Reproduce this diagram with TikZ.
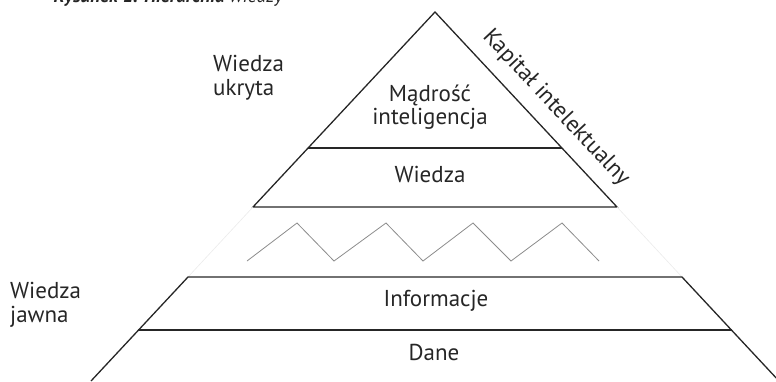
\documentclass[tikz,border=0pt]{standalone}
\usepackage{fontspec}
\setmainfont{PT Sans}
\usepackage{tikz}

\tikzset{
    edge/.style={black!85, line width=1.3pt, line join=miter},
    ghost/.style={black!8, line width=0.6pt},
    zig/.style={black!45, line width=0.8pt},
    lab/.style={font=\fontsize{23}{24}\selectfont, inner sep=0pt, text=black!85}
}

\begin{document}
\begin{tikzpicture}[x=1pt, y=-1pt]

\useasboundingbox (0,0) rectangle (776,381);

% top triangle
\draw[edge] (253,207) -- (435,12) -- (617,207) -- cycle;
\draw[edge] (308,148) -- (562,148);

% faint continuation of the sides
\draw[ghost] (253,207) -- (188,277);
\draw[ghost] (617,207) -- (682,277);

% zigzag
\draw[zig] (247,261) -- (297,223) -- (334,261) -- (386,223) -- (423,261) -- (473,223) -- (511,261) -- (562,223) -- (599,261);

% lower trapezoid
\draw[edge] (91,381) -- (188,277) -- (682,277) -- (779,381);
\draw[edge] (138,330) -- (732,330);

\node[lab, anchor=base] (mad) at (430,101) {Mądrość};
\node[lab, anchor=base] (intel) at (430,124) {inteligencja};
\node[lab, anchor=base] (wie) at (430,182) {Wiedza};
\node[lab, anchor=base] (info) at (436,306) {Informacje};
\node[lab, anchor=base] (dane) at (434,360) {Dane};

% base = last line here
\node[lab, anchor=base west, align=left] (ukryta) at (213,95) {Wiedza\\ukryta};
\node[lab, anchor=base west, align=left] (jawna) at (10,322) {Wiedza\\jawna};

\node[lab, rotate=-47] (kap) at (556,108) {Kapitał intelektualny};

%caption, cut off by the page
\node[lab, font=\fontsize{19}{23}\selectfont, anchor=base east] (cap) at (284,2) {\textbf{\textit{Rysunek 1. Hierarchia}} \textit{wiedzy}};

\end{tikzpicture}
\end{document}
